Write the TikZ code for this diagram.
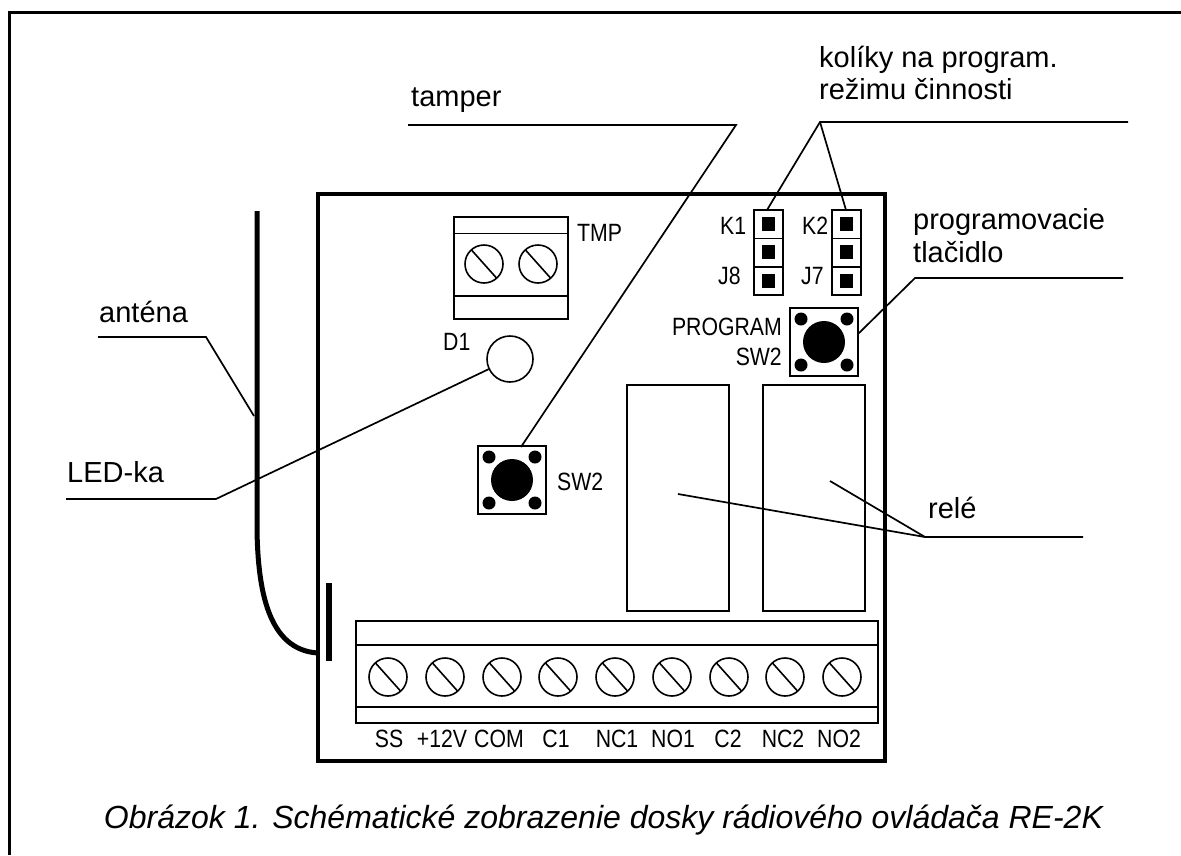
\documentclass[tikz,border=0pt]{standalone}
\usepackage{fontspec}
\setmainfont{Liberation Sans}
\newfontfamily\narrowf[FakeStretch=0.85]{Liberation Sans}
\tikzset{
 thinl/.style={line width=1.7pt,line cap=butt},
 part/.style={line width=1.7pt,draw=black,fill=none},
 lab/.style={inner sep=0pt,anchor=base west,font=\fontsize{29}{29}\selectfont},
 small/.style={inner sep=0pt,font=\narrowf\fontsize{25}{25}\selectfont},
 captext/.style={inner sep=0pt,anchor=base,font=\itshape\fontsize{32}{32}\selectfont},
}
\newcommand{\screw}[2]{%
 \draw[line width=1.6pt] (#1,#2) circle[radius=19];
 \draw[line width=1.6pt] (#1-12.5,#2-14) -- (#1+12.5,#2+14);}
\newcommand{\pushbtn}[2]{%
 \draw[line width=1.8pt] (#1-34,#2-34) rectangle (#1+34,#2+34);
 \fill (#1,#2) circle[radius=21];
 \foreach \a/\b in {-23/-23,23/-23,-23/23,23/23} \fill (#1+\a,#2+\b) circle[radius=6.5];}
\newcommand{\jumper}[1]{%
 \draw[line width=1.6pt] (#1-14.5,210) rectangle (#1+14.5,295);
 \draw[line width=1.6pt] (#1-14.5,238.5) -- (#1+14.5,238.5) (#1-14.5,267) -- (#1+14.5,267);
 \foreach \y in {224,252,281} \fill (#1-6.8,\y-6.8) rectangle (#1+6.8,\y+6.8);}
\begin{document}
\begin{tikzpicture}[x=1pt,y=-1pt]
\useasboundingbox (0,0) rectangle (1181,855);
\fill[white] (0,0) rectangle (1181,855);
% page frame
\draw[line width=2.4pt] (9.5,855) -- (9.5,12.5) -- (1181,12.5);
% board
\draw[line width=3.6pt] (318,194) rectangle (885,761);
% TMP terminal
\draw[part] (454,217) rectangle (568,319);
\draw[part] (454,233.5) -- (568,233.5) (454,296) -- (568,296);
\screw{484}{264}\screw{538}{264}
% jumpers
\jumper{768.5}\jumper{846.5}
% buttons
\pushbtn{824}{342}
\pushbtn{512}{480}
% LED
\node[circle,draw,line width=1.6pt,minimum size=46,inner sep=0pt] (led) at (510,359) {};
% relays
\draw[part] (627,385) rectangle (729,611);
\draw[part] (763,385) rectangle (865,611);
% terminal strip
\draw[part] (356,621) rectangle (878,723);
\draw[part] (356,645) -- (878,645) (356,707) -- (878,707);
\foreach \x in {388,445,502,558,615,672,729,785,842} {\screw{\x}{677}}
% bar and antenna
\draw[line width=5.5pt] (329,583) -- (329,661);
\draw[line width=5pt] (257,211) -- (257,530) .. controls (258,590) and (268,650) .. (318,653);
% connector coordinates
\coordinate (tampA) at (408,125);
\coordinate (tampB) at (736,125);
\coordinate (tampC) at (521,447);
\coordinate (kolA) at (820,122);
\coordinate (kolB) at (1128,122);
\coordinate (kolC) at (767,210);
\coordinate (kolD) at (846,210);
\coordinate (proA) at (1123,278);
\coordinate (proB) at (915,278);
\coordinate (proC) at (858,334);
\coordinate (antA) at (98,337);
\coordinate (antB) at (206,337);
\coordinate (antC) at (254,416);
\coordinate (ledA) at (66,499);
\coordinate (ledB) at (216,499);
\coordinate (relA) at (1083,537);
\coordinate (relB) at (925,537);
\coordinate (relC) at (678,494);
\coordinate (relD) at (830,481);
\draw[thinl] (tampA) -- (tampB) -- (tampC);
\draw[thinl] (kolB) -- (kolA) -- (kolC);
\draw[thinl] (kolA) -- (kolD);
\draw[thinl] (proA) -- (proB) -- (proC);
\draw[thinl] (antA) -- (antB) -- (antC);
\draw[thinl] (ledA) -- (ledB) -- (led);
\draw[thinl] (relA) -- (relB) -- (relC);
\draw[thinl] (relB) -- (relD);
% big labels
\node[lab] (t1) at (411,106) {tamper};
\node[lab] (t2) at (819,67) {kolíky na program.};
\node[lab] (t3) at (819,99) {režimu činnosti};
\node[lab] (t4) at (913,229) {programovacie};
\node[lab] (t5) at (913,262) {tlačidlo};
\node[lab] (t6) at (99,322) {anténa};
\node[lab] (t7) at (67,482) {LED-ka};
\node[lab] (t8) at (928,518) {relé};
% small labels
\node[small,anchor=base west] (s1) at (577,241) {TMP};
\node[small,anchor=base west] (s2) at (720,234) {K1};
\node[small,anchor=base west] (s3) at (802,234) {K2};
\node[small,anchor=base west] (s4) at (718,284) {J8};
\node[small,anchor=base west] (s5) at (801,284) {J7};
\node[small,anchor=base east] (s6) at (782,335) {PROGRAM};
\node[small,anchor=base east] (s7) at (782,365) {SW2};
\node[small,anchor=base west] (s8) at (443,350) {D1};
\node[small,anchor=base west] (s9) at (557,490) {SW2};
\foreach \x/\t in {389/SS,442/+12V,499/COM,556/C1,617/NC1,673/NO1,728/C2,783/NC2,839/NO2}
 {\node[small,anchor=base] at (\x,747) {\t};}
\node[captext] (c) at (603.5,828) {Obrázok 1. Schématické zobrazenie dosky rádiového ovládača RE-2K};
\end{tikzpicture}
\end{document}
